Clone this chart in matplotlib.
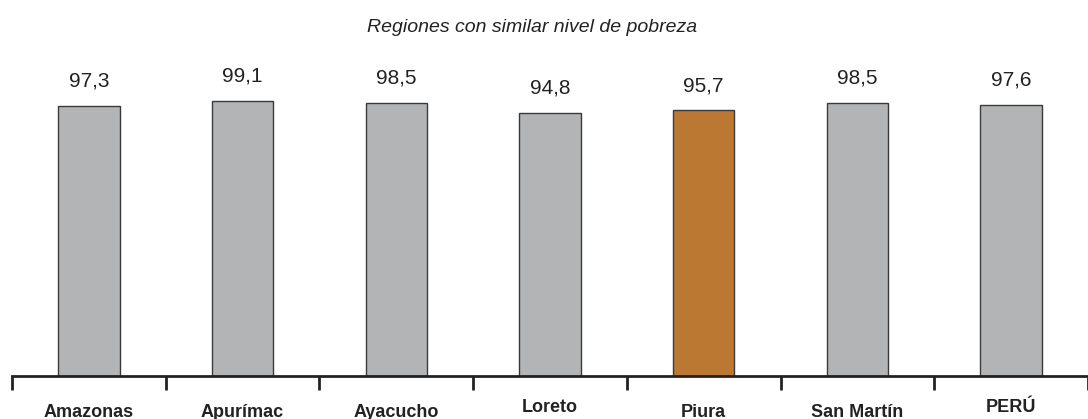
import matplotlib.pyplot as plt
from matplotlib import font_manager
import numpy as np

regions = ["Amazonas", "Apurímac", "Ayacucho", "Loreto", "Piura", "San Martín", "PERÚ"]
values = [97.3, 99.1, 98.5, 94.8, 95.7, 98.5, 97.6]
highlight = "Piura"

names = {f.name for f in font_manager.fontManager.ttflist}
narrow = "Liberation Sans Narrow" if "Liberation Sans Narrow" in names else "Liberation Sans"
plt.rcParams["font.family"] = [narrow, "DejaVu Sans"]

fig = plt.figure(figsize=(10.88, 4.19), dpi=100)
ax = fig.add_axes([12 / 1088, 1 - 376 / 419, 1 - 12 / 1088, 376 / 419])

x = np.arange(len(regions))
colors = ["#ba7833" if r == highlight else "#b3b4b6" for r in regions]
ax.bar(x, values, width=0.4, color=colors, edgecolor="#3a3a3a", linewidth=1.0, zorder=2)

for xi, v in zip(x, values):
    ax.text(xi, v + 5.5, f"{v:.1f}".replace(".", ","), ha="center", va="bottom",
            fontsize=15, color="#222222")

ax.set_xlim(-0.5, len(regions) - 0.5)
ax.set_ylim(0, 135.5)
for s in ["top", "right", "left"]:
    ax.spines[s].set_visible(False)
ax.spines["bottom"].set_linewidth(2)
ax.spines["bottom"].set_color("#222222")
ax.set_yticks([])

ax.set_xticks(np.arange(-0.5, len(regions) + 0.5, 1.0))
ax.tick_params(axis="x", length=10, width=2, color="#222222", labelbottom=False)

for xi, r in zip(x, regions):
    dy = -31 if r in ("Loreto", "PERÚ") else -36
    ax.annotate(r, (xi, 0), xytext=(0, dy), textcoords="offset pixels",
                ha="center", va="center", fontsize=13, fontweight="bold",
                color="#222222", annotation_clip=False)

fig.text(532 / 1088, 1 - 27 / 419, "Regiones con similar nivel de pobreza",
         ha="center", va="center", fontsize=14, style="italic", color="#222222")

fig.savefig("out.png", dpi=100)
